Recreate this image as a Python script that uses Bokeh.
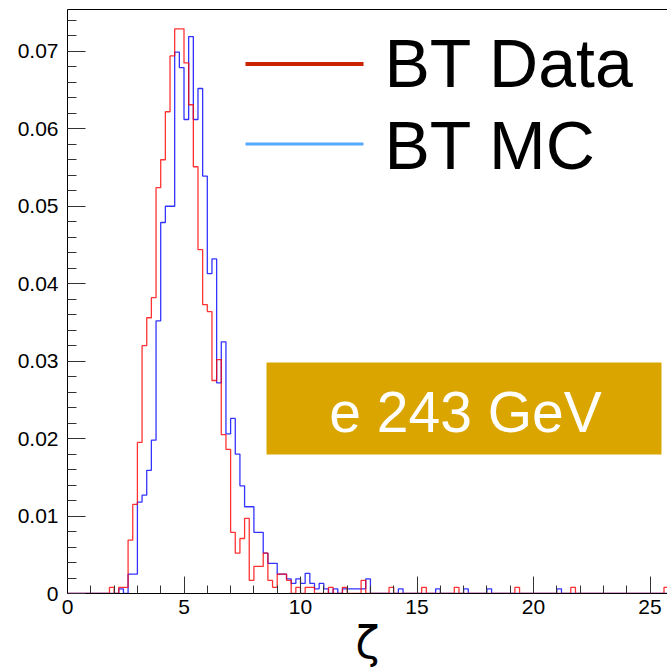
import numpy as np
from bokeh.plotting import figure
from bokeh.models import (Range1d, SingleIntervalTicker, FixedTicker, LinearAxis,
                          CustomJSTickFormatter, BoxAnnotation)
from bokeh.core.properties import value
from bokeh.embed import file_html
from bokeh.resources import INLINE

# ---------------- data ----------------
BIN_WIDTH = 0.2
N_BINS = 130          # histogram from 0 to 26
X_END = 25.75
Y_END = 0.0754

# BT Data (red): lower bin edge and bin content (normalised)
data_lo = [1.8, 2.2, 2.4, 2.6, 2.8, 3.0, 3.2, 3.4, 3.6, 3.8,
           4.0, 4.2, 4.4, 4.6, 4.8, 5.0, 5.2, 5.4, 5.6, 5.8,
           6.0, 6.2, 6.4, 6.6, 6.8, 7.0, 7.2, 7.4, 7.6, 7.8,
           8.0, 8.2, 8.4, 8.6, 8.8, 9.0, 9.2, 9.4, 9.8, 10.2,
           10.4, 11.2, 11.8, 12.6, 13.8, 15.2, 16.6, 19.2, 21.6, 25.6]
data_val = [0.0008, 0.0008, 0.0008, 0.0069, 0.0115, 0.0195, 0.0320, 0.0356, 0.0382, 0.0524,
            0.0560, 0.0622, 0.0694, 0.0729, 0.0729, 0.0685, 0.0631, 0.0551, 0.0444, 0.0373,
            0.0364, 0.0275, 0.0302, 0.0205, 0.0186, 0.0079, 0.0052, 0.0071, 0.0097, 0.0017,
            0.0035, 0.0035, 0.0052, 0.0017, 0.0008, 0.0025, 0.0025, 0.0017, 0.0008, 0.0008,
            0.0008, 0.0008, 0.0008, 0.0017, 0.0008, 0.0008, 0.0008, 0.0008, 0.0008, 0.0008]

# BT MC (blue)
mc_lo = [2.2, 2.6, 2.8, 3.0, 3.2, 3.4, 3.6, 3.8, 4.0, 4.2,
         4.4, 4.6, 4.8, 5.0, 5.2, 5.4, 5.6, 5.8, 6.0, 6.2,
         6.4, 6.6, 6.8, 7.0, 7.2, 7.4, 7.6, 7.8, 8.0, 8.2,
         8.4, 8.6, 8.8, 9.0, 9.2, 9.4, 9.6, 9.8, 10.0, 10.2,
         10.4, 10.6, 10.8, 11.0, 11.4, 11.8, 12.0, 12.2, 12.4, 12.6,
         12.8, 14.2, 15.8, 17.0, 18.0, 21.0]
mc_val = [0.0006, 0.0025, 0.0025, 0.0118, 0.0127, 0.0159, 0.0198, 0.0352, 0.0479, 0.0500,
          0.0500, 0.0699, 0.0679, 0.0612, 0.0719, 0.0612, 0.0652, 0.0539, 0.0413, 0.0432,
          0.0272, 0.0325, 0.0206, 0.0226, 0.0180, 0.0139, 0.0112, 0.0112, 0.0079, 0.0079,
          0.0052, 0.0039, 0.0039, 0.0025, 0.0025, 0.0019, 0.0013, 0.0019, 0.0013, 0.0026,
          0.0013, 0.0006, 0.0013, 0.0006, 0.0006, 0.0006, 0.0006, 0.0006, 0.0006, 0.0006,
          0.0019, 0.0006, 0.0006, 0.0006, 0.0006, 0.0006]

legend_labels = ["BT Data", "BT MC"]
box_text = "e 243 GeV"
x_title = "\u03b6"


def to_hist(lo, val):
    h = np.zeros(N_BINS)
    for l, v in zip(lo, val):
        h[int(round(l / BIN_WIDTH))] = v
    return h


edges = np.arange(N_BINS + 1) * BIN_WIDTH
h_data = to_hist(data_lo, data_val)
h_mc = to_hist(mc_lo, mc_val)

# ---------------- figure ----------------
W, H = 667, 670
L, T, B = 67, 9, 77
FW, FH = W - L, H - T - B

p = figure(width=W, height=H, output_backend="svg", toolbar_location=None,
           x_range=Range1d(0, X_END), y_range=Range1d(0, Y_END),
           min_border_left=L, min_border_right=0, min_border_top=T,
           min_border_bottom=B, background_fill_color="white",
           border_fill_color="white")
p.grid.visible = False
p.outline_line_color = None

FONT = "Liberation Sans"

# axes
xa = p.xaxis[0]
xa.ticker = SingleIntervalTicker(interval=5, num_minor_ticks=5)
ya = p.yaxis[0]
ya.ticker = SingleIntervalTicker(interval=0.01, num_minor_ticks=5)
ya.formatter = CustomJSTickFormatter(code="return tick == 0 ? '0' : tick.toFixed(2);")
for ax in (xa, ya):
    ax.major_tick_out = 0
    ax.minor_tick_out = 0
    ax.major_label_text_font = FONT
    ax.major_label_text_font_size = "21px"
    ax.major_label_text_color = "black"
    ax.axis_line_color = "black"
    ax.major_tick_line_color = "#333333"
    ax.minor_tick_line_color = "#333333"
xa.major_tick_in = 17
xa.minor_tick_in = 8
ya.major_tick_in = 18
ya.minor_tick_in = 9
xa.major_label_standoff = 6
ya.major_label_standoff = 9
xa.axis_label = x_title
xa.axis_label_text_font = "DejaVu Sans"
xa.axis_label_text_font_style = "normal"
xa.axis_label_text_font_size = "44px"
xa.axis_label_text_color = "black"
xa.axis_label_standoff = 0

# plain frame line along the top
top = LinearAxis(ticker=FixedTicker(ticks=[]), major_tick_line_color=None,
                 minor_tick_line_color=None, axis_line_color="black",
                 major_label_standoff=0)
p.add_layout(top, "above")

# histograms
p.step(x=edges, y=np.append(h_mc, 0.0), mode="after", line_color="#0000FF",
       line_width=1.3, line_alpha=0.8)
p.step(x=edges, y=np.append(h_data, 0.0), mode="after", line_color="#FF0000",
       line_width=1.3, line_alpha=0.8)


# layout helpers (pixel position -> data coordinates)
def dx(px):
    return (px - L) / FW * X_END


def dy(py):
    return (H - B - py) / FH * Y_END


# legend
p.segment(x0=[dx(245)], x1=[dx(363)], y0=[dy(63.5)], y1=[dy(63.5)],
          line_color="#CC2200", line_width=4)
p.segment(x0=[dx(245)], x1=[dx(363)], y0=[dy(143.5)], y1=[dy(143.5)],
          line_color="#55AAFF", line_width=3)
p.text(x=[dx(384), dx(384)], y=[dy(62), dy(144)], text=legend_labels,
       text_font=value(FONT), text_font_size="68px", text_color="black",
       text_baseline="alphabetic", text_align="left")

# energy box
p.add_layout(BoxAnnotation(left=dx(266), right=dx(661), top=dy(362), bottom=dy(454),
                           fill_color="#DBA500", fill_alpha=1.0, line_color=None))
p.text(x=[dx(465)], y=[dy(411)], text=[box_text], text_font=value(FONT),
       text_font_size="57px", text_color="white", text_align="center",
       text_baseline="alphabetic", level="overlay")

open("out.html", "w").write(file_html(p, INLINE))
